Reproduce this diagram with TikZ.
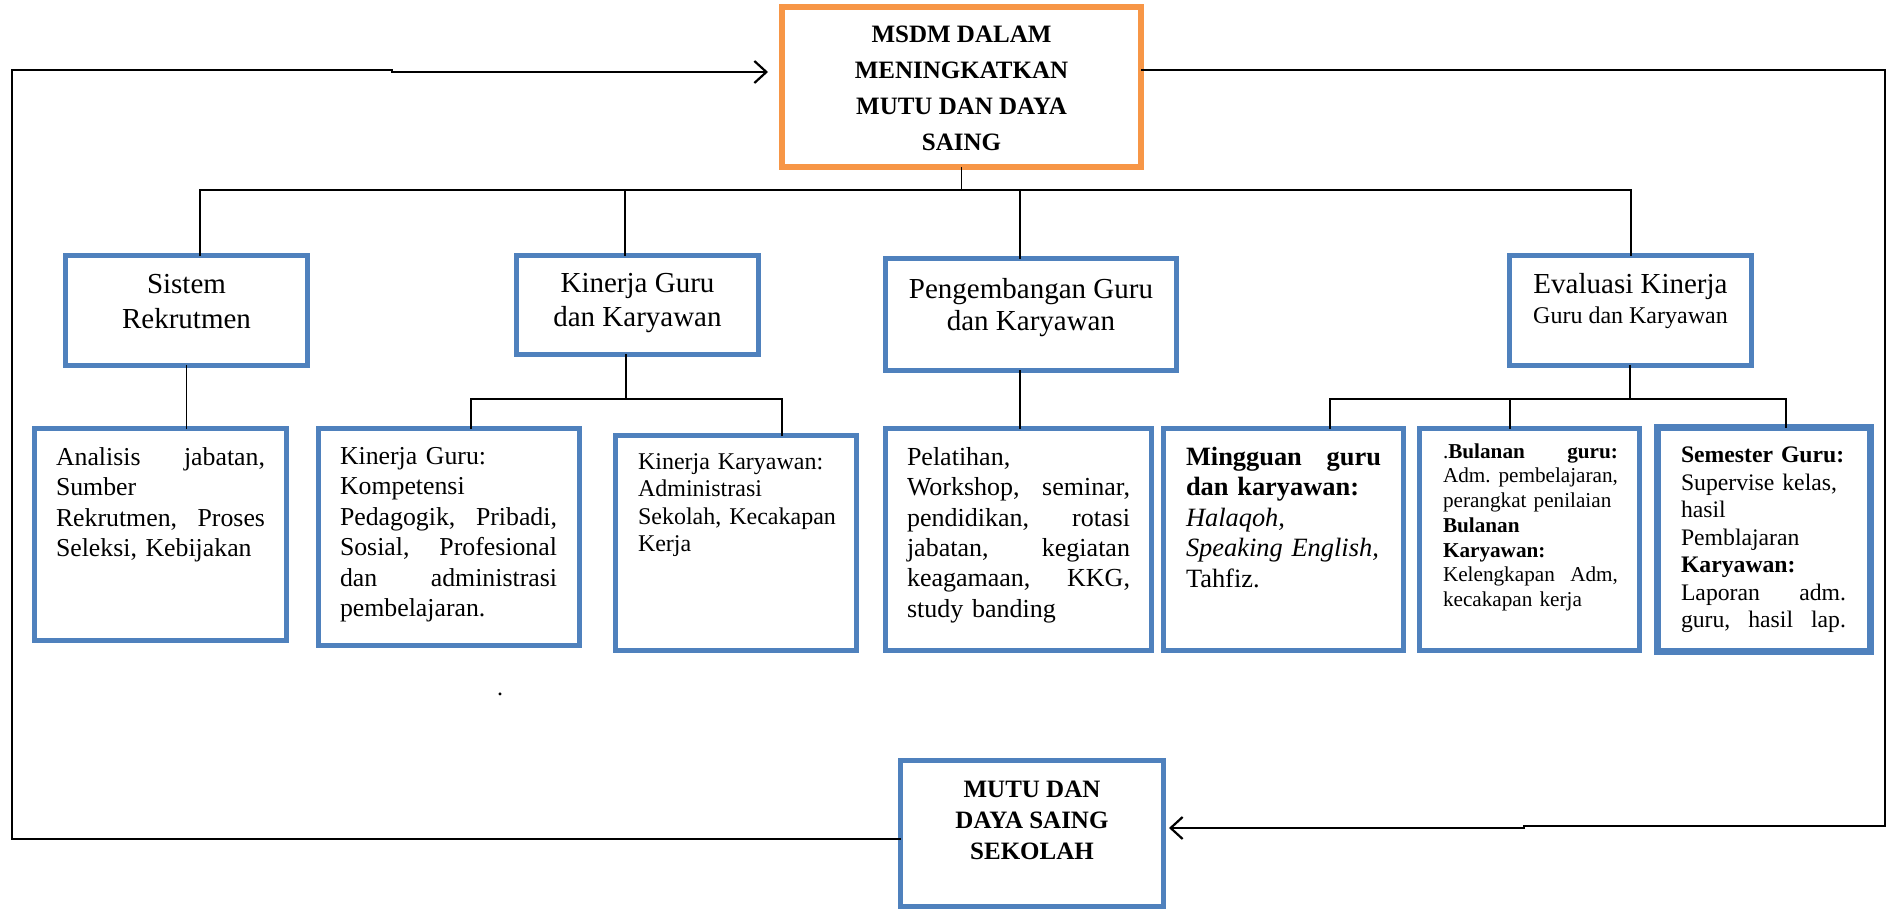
\documentclass[tikz,border=0pt]{standalone}
\usepackage{fontspec}
\setmainfont{Liberation Serif}
\usetikzlibrary{arrows.meta}
\definecolor{mblue}{RGB}{79,129,189}
\definecolor{morange}{RGB}{247,150,70}
% glue that spreads the words of a justified line over the full width
\newcommand\jgap{\hskip 0pt plus 1filll\relax}
\newcommand\dgTitle{\fontsize{12.5}{17.85}\selectfont\bfseries}
\newcommand\dgBot{\fontsize{12.5}{15.5}\selectfont\bfseries}
\newcommand\dgHead{\fontsize{14.5}{17.5}\selectfont}
\tikzset{
  bx/.style 2 args={draw=mblue, line width=2.7pt, inner sep=0pt, outer sep=0pt,
    minimum width={(#1-5.4)*0.5pt}, minimum height={(#2-5.4)*0.5pt}},
  obox/.style 2 args={draw=morange, line width=3pt, inner sep=0pt, outer sep=0pt,
    minimum width={(#1-6)*0.5pt}, minimum height={(#2-6)*0.5pt}},
  ctx/.style={inner sep=0pt, outer sep=0pt, align=center, anchor=north},
  ptx/.style={inner sep=0pt, outer sep=0pt, align=left, anchor=north west, text width=#1},
  conn/.style={line width=0.9pt},
  fback/.style={line width=1.1pt, -{Straight Barb[length=6pt,width=11pt]}},
}
\begin{document}
\frenchspacing
\begin{tikzpicture}[x=0.5pt,y=-0.5pt]
\useasboundingbox (0,0) rectangle (1892,910);
\fill[white] (0,0) rectangle (1892,910);

% boxes
\node[obox={365}{166}] (top) at (961.5,87) {};
\node[bx={247}{115}] (s1) at (186.5,310.5) {};
\node[bx={247}{104}] (s2) at (637.5,305) {};
\node[bx={296}{117}] (s3) at (1031,314.5) {};
\node[bx={247}{115}] (s4) at (1630.5,310.5) {};
\node[bx={257}{217}] (c1) at (160.5,534.5) {};
\node[bx={266}{222}] (c2) at (449,537) {};
\node[bx={246}{220}] (c3) at (736,543) {};
\node[bx={271}{227}] (c4) at (1018.5,539.5) {};
\node[bx={245}{227}] (c5) at (1283.5,539.5) {};
\node[bx={225}{227}] (c6) at (1529.5,539.5) {};
\node[bx={218}{229}, line width=3.4pt] (c7) at (1764,539.5) {};
\node[bx={268}{151}] (bot) at (1032,833.5) {};

% box texts
\node[ctx, font=\dgTitle] (topt) at (961.5,26.4) {MSDM DALAM\\MENINGKATKAN\\MUTU DAN DAYA\\SAING};
\node[ctx, font=\dgHead] (s1t) at (186.5,273.8) {Sistem\\Rekrutmen};
\node[ctx, font=\dgHead] (s2t) at (637.5,273.2) {Kinerja Guru\\[-0.5pt]dan Karyawan};
\node[ctx, font=\dgHead] (s3t) at (1031,278.2) {Pengembangan Guru\\[-1.5pt]dan Karyawan};
\node[ctx, font=\dgHead] (s4t) at (1630.5,273.2) {Evaluasi Kinerja\\[-2.5pt]{\fontsize{12}{15}\selectfont Guru dan Karyawan}};

\node[ptx=104.5pt, font=\fontsize{12.9}{15.25}\selectfont] (c1t) at (56,447.4)
  {Analisis\jgap jabatan,\\Sumber\\Rekrutmen,\jgap Proses\\Seleksi, Kebijakan};
\node[ptx=108.5pt, font=\fontsize{12.9}{15.25}\selectfont] (c2t) at (340,447.4)
  {Kinerja Guru:\\Kompetensi\\Pedagogik,\jgap Pribadi,\\Sosial,\jgap Profesional\\dan\jgap administrasi\\pembelajaran.};
\node[ptx=103pt, font=\fontsize{12}{13.65}\selectfont] (c3t) at (638,453.6)
  {Kinerja Karyawan:\\Administrasi\\Sekolah, Kecakapan\\Kerja};
\node[ptx=111.5pt, font=\fontsize{13}{15.2}\selectfont] (c4t) at (907,447.2)
  {Pelatihan,\\Workshop,\jgap seminar,\\pendidikan,\jgap rotasi\\jabatan,\jgap kegiatan\\keagamaan,\jgap KKG,\\study banding};
\node[ptx=97.5pt, font=\fontsize{13.2}{15.25}\selectfont] (c5t) at (1186,447)
  {\textbf{Mingguan\jgap guru}\\\textbf{dan karyawan:}\\\textit{Halaqoh,}\\\textit{Speaking English,}\\Tahfiz.};
\node[ptx=87.5pt, font=\fontsize{10.6}{12.35}\selectfont] (c6t) at (1443,443.5)
  {.\textbf{Bulanan\jgap guru:}\\Adm.\jgap pembelajaran,\\perangkat penilaian\\\textbf{Bulanan}\\\textbf{Karyawan:}\\Kelengkapan\jgap Adm,\\kecakapan kerja};
\node[ptx=82.5pt, font=\fontsize{11.85}{13.75}\selectfont] (c7t) at (1681,447)
  {\textbf{Semester Guru:}\\Supervise kelas,\\hasil\\Pemblajaran\\\textbf{Karyawan:}\\Laporan\jgap adm.\\guru,\jgap hasil\jgap lap.};

\node[ctx, font=\dgBot] (bott) at (1032,780.5) {MUTU DAN\\DAYA SAING\\SEKOLAH};
\node[font=\fontsize{12}{14}\selectfont, inner sep=0pt] (dot) at (500,694) {.};

% tree connectors
\coordinate (bL) at (200,190);
\coordinate (bK) at (625,190);
\coordinate (bP) at (1020,190);
\coordinate (bR) at (1631,190);
\draw[conn] (top.south) -- (top.south |- bL);
\draw[conn] (bL |- s1.north) -- (bL) -- (bR) -- (bR |- s4.north);
\draw[conn] (bK) -- (bK |- s2.north);
\draw[conn] (bP) -- (bP |- s3.north);

\draw[conn] (s1.south) -- (s1.south |- c1.north);

\coordinate (kJ) at (626,399);
\coordinate (kL) at (471,399);
\coordinate (kR) at (782,399);
\draw[conn] (kJ |- s2.south) -- (kJ);
\draw[conn] (kL |- c2.north) -- (kL) -- (kR) -- (kR |- c3.north);

\draw[conn] (bP |- s3.south) -- (bP |- c4.north);

\coordinate (eJ) at (1630,399);
\coordinate (eL) at (1330,399);
\coordinate (eM) at (1510,399);
\coordinate (eR) at (1786,399);
\draw[conn] (eJ |- s4.south) -- (eJ);
\draw[conn] (eL |- c5.north) -- (eL) -- (eR) -- (eR |- c7.north);
\draw[conn] (eM) -- (eM |- c6.north);

% feedback loops
\coordinate (lc1) at (12,839);
\coordinate (lc2) at (12,70);
\coordinate (lj1) at (392,70);
\coordinate (lj2) at (392,72);
\coordinate (lend) at (768,72);
\draw[fback] (bot.west |- lc1) -- (lc1) -- (lc2) -- (lj1) -- (lj2) -- (lend);

\coordinate (rc1) at (1885,70);
\coordinate (rc2) at (1885,826);
\coordinate (rj1) at (1524,826);
\coordinate (rj2) at (1524,828);
\coordinate (rend) at (1169,828);
\draw[fback] (top.east |- rc1) -- (rc1) -- (rc2) -- (rj1) -- (rj2) -- (rend);
\end{tikzpicture}
\end{document}
